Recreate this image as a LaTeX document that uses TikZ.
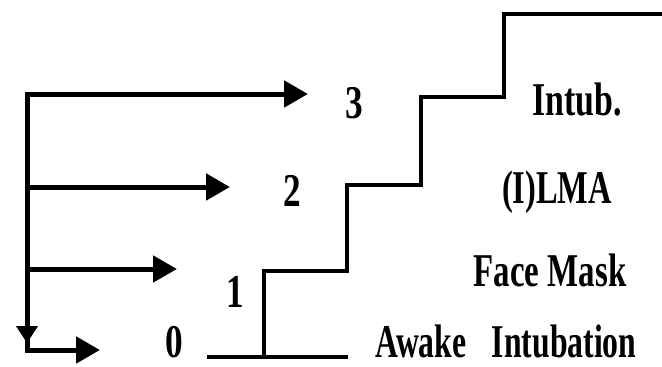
\documentclass[tikz,border=0pt]{standalone}
\usepackage{fontspec}
\setmainfont{Liberation Serif}
\usetikzlibrary{arrows.meta}
\begin{document}
\begin{tikzpicture}[x=1pt,y=-1pt,
  bigtip/.tip={Triangle[length=24pt,width=26pt]},
  flow/.style={line width=5pt, line join=miter, -bigtip},
  stair/.style={line width=4pt, line join=miter},
  lbl/.style={font=\bfseries\fontsize{47}{47}\selectfont, inner sep=0pt, anchor=base}]
\useasboundingbox (0,0) rectangle (662,367);

% branching arrows on the left
\coordinate (corner) at (27,94);
\coordinate (base) at (27,350);
\coordinate (b2) at (27,187);
\coordinate (b1) at (27,269);
\coordinate (down) at (27,343);
\coordinate (t3) at (308,94);
\coordinate (t2) at (230,187);
\coordinate (t1) at (177,269);
\coordinate (t0) at (100,350);

\draw[flow, bigtip-bigtip] (t0) -- (base) -- (corner) -- (t3);
\draw[flow] (b2) -- (t2);
\draw[flow] (b1) -- (t1);
\draw[line width=5pt, -{Triangle[length=17pt,width=21pt]}] (b1) -- (down);

% level numbers
\node[lbl, xscale=0.75] (n3) at (354,118) {3};
\node[lbl, xscale=0.75] (n2) at (292,206) {2};
\node[lbl, xscale=0.75] (n1) at (235,307) {1};
\node[lbl, xscale=0.75] (n0) at (174,357) {0};

% staircase
\coordinate (s0) at (207,357);
\coordinate (s0e) at (348,357);
\coordinate (r1) at (264,357);
\draw[stair] (s0) -- (s0e);
\draw[stair] (r1) -- (264,271) -- (347,271) -- (347,185) -- (421,185)
  -- (421,97) -- (504,97) -- (504,14) -- (666,14);

% step labels
\node[lbl, xscale=0.72] (intub) at (577,115) {Intub.};
\node[lbl, xscale=0.69] (lma) at (557,203) {(I)LMA};
\node[lbl, xscale=0.70] (mask) at (550,286) {Face Mask};
\node[lbl, xscale=0.675] (awake) at (506,357) {Awake\hspace{0.8em}Intubation};
\end{tikzpicture}
\end{document}
